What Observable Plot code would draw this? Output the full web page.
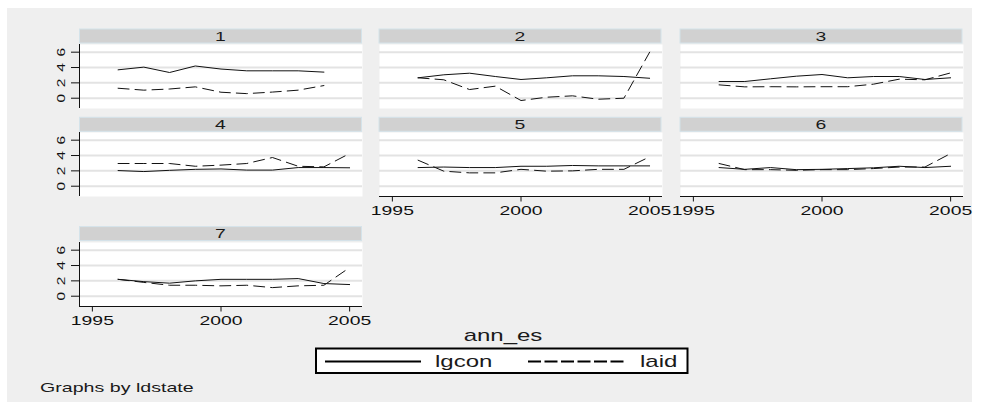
<!DOCTYPE html>
<html><head><meta charset="utf-8">
<script src="https://cdn.jsdelivr.net/npm/d3@7"></script>
<script src="https://cdn.jsdelivr.net/npm/@observablehq/plot@0.6"></script>
<style>
html,body{margin:0;padding:0;background:#fff;}
#wrap{position:relative;width:983px;height:402px;overflow:hidden;background:#fff;font-family:"Liberation Sans",Arial,sans-serif;}
#bg{position:absolute;left:7px;top:8px;width:965px;height:394px;background:#efefef;}
.panel{position:absolute;}
#overlay{position:absolute;left:0;top:0;}
</style></head><body><div id="wrap"><div id="bg"></div></div>
<script>
// ---- data ----
const years = [1996, 1997, 1998, 1999, 2000, 2001, 2002, 2003, 2004, 2005];
const panelIds = [1, 2, 3, 4, 5, 6, 7];
const lgcon1 = [3.7, 4.05, 3.35, 4.2, 3.8, 3.57, 3.57, 3.57, 3.4];
const laid1  = [1.3, 1.05, 1.2, 1.48, 0.78, 0.6, 0.8, 1.05, 1.65];
const lgcon2 = [2.66, 3.05, 3.26, 2.83, 2.44, 2.66, 2.92, 2.92, 2.83, 2.6];
const laid2  = [2.66, 2.4, 1.13, 1.57, -0.3, 0.13, 0.31, -0.13, 0.0, 6.0];
const lgcon3 = [2.18, 2.18, 2.53, 2.87, 3.09, 2.66, 2.83, 2.83, 2.44, 2.66];
const laid3  = [1.74, 1.48, 1.5, 1.48, 1.5, 1.5, 1.83, 2.48, 2.4, 3.3];
const lgcon4 = [2.04, 1.91, 2.07, 2.2, 2.25, 2.1, 2.1, 2.43, 2.43, 2.4];
const laid4  = [2.96, 2.96, 2.96, 2.6, 2.75, 2.96, 3.74, 2.6, 2.52, 4.26];
const lgcon5 = [2.43, 2.5, 2.43, 2.43, 2.6, 2.6, 2.7, 2.65, 2.65, 2.65];
const laid5  = [3.39, 1.96, 1.74, 1.74, 2.2, 1.96, 2.0, 2.2, 2.2, 3.83];
const lgcon6 = [2.43, 2.2, 2.43, 2.16, 2.2, 2.3, 2.4, 2.6, 2.43, 2.6];
const laid6  = [2.96, 2.16, 2.16, 2.07, 2.16, 2.16, 2.3, 2.5, 2.5, 4.26];
const lgcon7 = [2.2, 1.9, 1.7, 2.0, 2.2, 2.2, 2.2, 2.3, 1.65, 1.52];
const laid7  = [2.2, 1.8, 1.43, 1.43, 1.35, 1.43, 1.12, 1.35, 1.43, 3.73];
const xTicks = [1995, 2000, 2005];
const yTicks = [0, 2, 4, 6];
const seriesNames = ["lgcon", "laid"];
const xTitle = "ann_es";
const note = "Graphs by ldstate";

const lgconAll = [lgcon1, lgcon2, lgcon3, lgcon4, lgcon5, lgcon6, lgcon7];
const laidAll = [laid1, laid2, laid3, laid4, laid5, laid6, laid7];

// ---- layout ----
const FONT = "'Liberation Sans', Arial, sans-serif";
const S = 1.55;
const colLefts = [79, 378.5, 679.5];
const plotTops = [44, 132.3, 241.6];
const PW = 283, PH = 64, ML = 45, MR = 2, MB = 32;
const YDOM = [-1.34, 7];
const bottomPanels = [5, 6, 7];

function stretch(svg, s) {
  svg.querySelectorAll("text").forEach(t => {
    const tr = t.getAttribute("transform") || "";
    const x = t.getAttribute("x");
    if (x !== null && !isNaN(+x)) t.setAttribute("x", (+x) / s);
    t.setAttribute("transform", (tr + " scale(" + s + ",1)").trim());
  });
}

const wrap = document.getElementById("wrap");

panelIds.forEach((id, i) => {
  const col = i % 3, row = Math.floor(i / 3);
  const left = col === 0;
  const bottom = bottomPanels.includes(id);
  const lg = lgconAll[i].map((v, k) => ({year: years[k], value: v}));
  const la = laidAll[i].map((v, k) => ({year: years[k], value: v}));
  const marks = [
    Plot.frame({fill: "white", stroke: "none"}),
    Plot.ruleY(yTicks, {stroke: "#e3e3e3", strokeWidth: 2}),
    Plot.line(lg, {x: "year", y: "value", stroke: "#111", strokeWidth: 1}),
    Plot.line(la, {x: "year", y: "value", stroke: "#111", strokeWidth: 1, strokeDasharray: "11,6"})
  ];
  if (left) {
    marks.push(Plot.ruleX([YDOM[0] < 0 ? 1994.5 : 1994.5], {stroke: "#111", strokeWidth: 1}));
    marks.push(Plot.text(yTicks, {y: d => d, frameAnchor: "left", dx: -18, rotate: -90,
      text: d => String(d), fontSize: 10, fill: "#111", textAnchor: "middle", lineAnchor: "middle"}));
  }
  if (bottom) marks.push(Plot.ruleY([YDOM[0]], {stroke: "#111", strokeWidth: 1}));
  const chart = Plot.plot({
    width: PW + ML + MR, height: PH + MB,
    marginLeft: ML, marginRight: MR, marginTop: 0, marginBottom: MB,
    style: {background: "transparent", fontFamily: FONT, fontSize: "12.5px", color: "#111", overflow: "visible"},
    x: {domain: [1994.5, 2005.5], ticks: xTicks, tickFormat: d => String(d), tickSize: 5.5, tickPadding: 4.5,
        label: null, axis: bottom ? "bottom" : null},
    y: {domain: YDOM, ticks: yTicks, tickSize: 8, tickFormat: () => "", label: null, axis: left ? "left" : null},
    marks
  });
  stretch(chart, S);
  chart.classList.add("panel");
  chart.style.position = "absolute";
  chart.style.left = (colLefts[col] - ML) + "px";
  chart.style.top = plotTops[row] + "px";
  wrap.appendChild(chart);
});

// ---- overlay: strip titles, axis title, legend, note ----
const ns = "http://www.w3.org/2000/svg";
const ov = document.createElementNS(ns, "svg");
ov.setAttribute("id", "overlay");
ov.setAttribute("width", 983);
ov.setAttribute("height", 402);
ov.style.fontFamily = FONT;
function el(tag, attrs, txt) {
  const e = document.createElementNS(ns, tag);
  for (const k in attrs) e.setAttribute(k, attrs[k]);
  if (txt !== undefined) e.textContent = txt;
  ov.appendChild(e);
  return e;
}
panelIds.forEach((id, i) => {
  const col = i % 3, row = Math.floor(i / 3);
  const x = colLefts[col], y = plotTops[row] - 15.5;
  el("rect", {x: x + 0.5, y: y + 0.5, width: PW - 1, height: 14, fill: "#d1d1d1", stroke: "#d4e3ea", "stroke-width": 1});
  el("text", {transform: `translate(${x + PW / 2},${y + 12}) scale(${S},1)`, "text-anchor": "middle",
    "font-size": 12.5, fill: "#1a1a1a"}, String(id));
});
el("text", {transform: `translate(503,340.5) scale(1.5,1)`, "text-anchor": "middle", "font-size": 16, fill: "#1a1a1a"}, xTitle);
el("rect", {x: 316, y: 348.5, width: 371.5, height: 24.5, fill: "white", stroke: "#000", "stroke-width": 2});
el("line", {x1: 325, x2: 421, y1: 361.5, y2: 361.5, stroke: "#000", "stroke-width": 1.8});
el("text", {transform: `translate(435,366.5) scale(1.5,1)`, "font-size": 16, fill: "#1a1a1a"}, seriesNames[0]);
el("line", {x1: 528, x2: 625, y1: 361.5, y2: 361.5, stroke: "#000", "stroke-width": 1.8, "stroke-dasharray": "13,3.5"});
el("text", {transform: `translate(640,366.5) scale(1.5,1)`, "font-size": 16, fill: "#1a1a1a"}, seriesNames[1]);
el("text", {transform: `translate(40,392) scale(1.57,1)`, "font-size": 12.5, fill: "#1a1a1a"}, note);
wrap.appendChild(ov);
</script></body></html>
